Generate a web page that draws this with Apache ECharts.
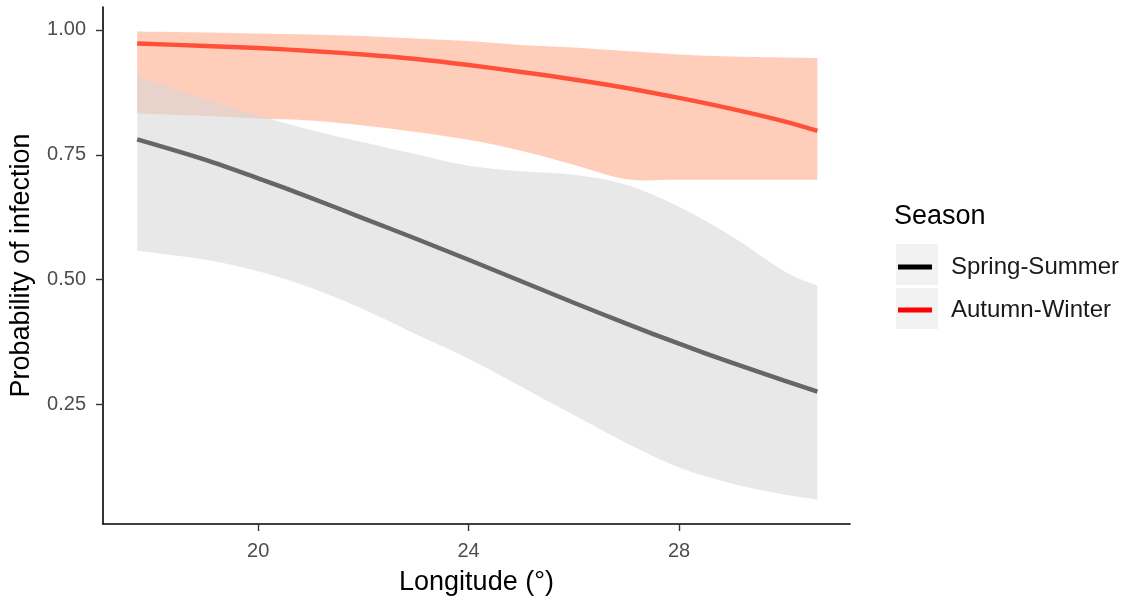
<!DOCTYPE html>
<html>
<head>
<meta charset="utf-8">
<script src="https://cdn.jsdelivr.net/npm/echarts@6/dist/echarts.min.js"></script>
<style>
html,body{margin:0;padding:0;background:#fff;}
#chart{width:1125px;height:603px;}
</style>
</head>
<body>
<div id="chart"></div>
<script>
// ---- data ----
const longitude    = [17.7, 19, 20, 21, 22, 23, 24, 25, 26, 27, 28, 29, 30, 30.63];
const springFit    = [0.781, 0.740, 0.703, 0.664, 0.623, 0.582, 0.540, 0.497, 0.454, 0.412, 0.372, 0.334, 0.298, 0.276];
const springLower  = [0.558, 0.540, 0.517, 0.484, 0.441, 0.391, 0.342, 0.286, 0.229, 0.173, 0.124, 0.092, 0.070, 0.060];
const springUpper  = [0.908, 0.862, 0.829, 0.800, 0.775, 0.751, 0.728, 0.717, 0.710, 0.690, 0.646, 0.587, 0.517, 0.488];
const autumnFit    = [0.973, 0.968, 0.964, 0.958, 0.951, 0.942, 0.930, 0.916, 0.901, 0.884, 0.864, 0.842, 0.817, 0.798];
const autumnLower  = [0.833, 0.828, 0.823, 0.819, 0.809, 0.796, 0.780, 0.758, 0.730, 0.701, 0.700, 0.700, 0.700, 0.700];
const autumnUpper  = [0.997, 0.995, 0.993, 0.991, 0.988, 0.983, 0.978, 0.970, 0.965, 0.958, 0.951, 0.947, 0.945, 0.944];
const seasons      = ['Spring-Summer', 'Autumn-Winter'];
const xTicks       = [20, 24, 28];
const yTicks       = [0.25, 0.50, 0.75, 1.00];

const pairs = (ys) => longitude.map((x, i) => [x, ys[i]]);

const chart = echarts.init(document.getElementById('chart'), null, {renderer: 'canvas'});
const FONT = '"Liberation Sans", Arial, sans-serif';

// Catmull-Rom -> cubic bezier segments through pixel points (rendering only)
function curveSegs(p) {
  let d = '';
  const n = p.length;
  for (let i = 0; i < n - 1; i++) {
    const p0 = p[Math.max(i - 1, 0)], p1 = p[i], p2 = p[i + 1], p3 = p[Math.min(i + 2, n - 1)];
    const c1 = [p1[0] + (p2[0] - p0[0]) / 6, p1[1] + (p2[1] - p0[1]) / 6];
    const c2 = [p2[0] - (p3[0] - p1[0]) / 6, p2[1] - (p3[1] - p1[1]) / 6];
    d += ' C' + c1[0] + ' ' + c1[1] + ' ' + c2[0] + ' ' + c2[1] + ' ' + p2[0] + ' ' + p2[1];
  }
  return d;
}

function bandSeries(name, upper, lower, fill) {
  return {
    name: name, type: 'custom', silent: true, z: 2,
    data: [[longitude[0], upper[0]]],
    renderItem: function (params, api) {
      const up = longitude.map((x, i) => api.coord([x, upper[i]]));
      const lo = longitude.map((x, i) => api.coord([x, lower[i]])).reverse();
      const d = 'M' + up[0][0] + ' ' + up[0][1] + curveSegs(up) +
                ' L' + lo[0][0] + ' ' + lo[0][1] + curveSegs(lo) + ' Z';
      return {type: 'path', shape: {pathData: d}, style: {fill: fill, stroke: null}};
    }
  };
}

chart.setOption({
  animation: false,
  backgroundColor: '#ffffff',
  title: {
    text: 'Season', left: 894, top: 203, padding: 0,
    textStyle: {fontFamily: FONT, fontSize: 27, fontWeight: 'normal', color: '#000000'}
  },
  graphic: [
    {type: 'rect', z: 0, shape: {x: 896, y: 244, width: 42, height: 41}, style: {fill: '#F2F2F2'}},
    {type: 'rect', z: 0, shape: {x: 896, y: 288, width: 42, height: 41}, style: {fill: '#F2F2F2'}}
  ],
  legend: {
    orient: 'vertical', left: 898, top: 255, z: 5,
    itemWidth: 34, itemHeight: 5, itemGap: 19, padding: 0,
    icon: 'rect', selectedMode: false,
    textStyle: {fontFamily: FONT, fontSize: 24, color: '#1A1A1A', lineHeight: 23, padding: [0, 0, 0, 14]},
    data: [
      {name: seasons[0], itemStyle: {color: '#000000'}},
      {name: seasons[1], itemStyle: {color: '#FF0000'}}
    ]
  },
  grid: {left: 103, top: 7, right: 275, bottom: 79, containLabel: false},
  xAxis: {
    type: 'value', min: 17.05, max: 31.25,
    name: 'Longitude (°)', nameLocation: 'middle', nameGap: 45,
    nameTextStyle: {fontFamily: FONT, fontSize: 27, color: '#000000'},
    axisLine: {show: true, lineStyle: {color: '#000000', width: 1.6}},
    axisTick: {show: true, length: 7, lineStyle: {color: '#333333', width: 1.4}, customValues: xTicks},
    axisLabel: {fontFamily: FONT, fontSize: 20, color: '#4D4D4D', margin: 17, customValues: xTicks},
    splitLine: {show: false}
  },
  yAxis: {
    type: 'value', min: 0.011, max: 1.046,
    name: 'Probability of infection', nameLocation: 'middle', nameGap: 68,
    nameTextStyle: {fontFamily: FONT, fontSize: 27, color: '#000000'},
    axisLine: {show: true, lineStyle: {color: '#000000', width: 1.6}},
    axisTick: {show: true, length: 7, lineStyle: {color: '#333333', width: 1.4}, customValues: yTicks},
    axisLabel: {fontFamily: FONT, fontSize: 20, color: '#4D4D4D', margin: 17, customValues: yTicks,
      formatter: (v) => Number(v).toFixed(2)},
    splitLine: {show: false}
  },
  series: [
    bandSeries('aw-band', autumnUpper, autumnLower, '#FFCEBA'),
    bandSeries('ss-band', springUpper, springLower, 'rgba(213,213,213,0.55)'),
    {name: seasons[0], type: 'line', symbol: 'none', smooth: 0.3, z: 5, data: pairs(springFit),
      lineStyle: {color: '#666666', width: 4.5}, itemStyle: {color: '#000000'}},
    {name: seasons[1], type: 'line', symbol: 'none', smooth: 0.3, z: 5, data: pairs(autumnFit),
      lineStyle: {color: '#FF503A', width: 4.5}, itemStyle: {color: '#FF0000'}}
  ]
});
</script>
</body>
</html>
